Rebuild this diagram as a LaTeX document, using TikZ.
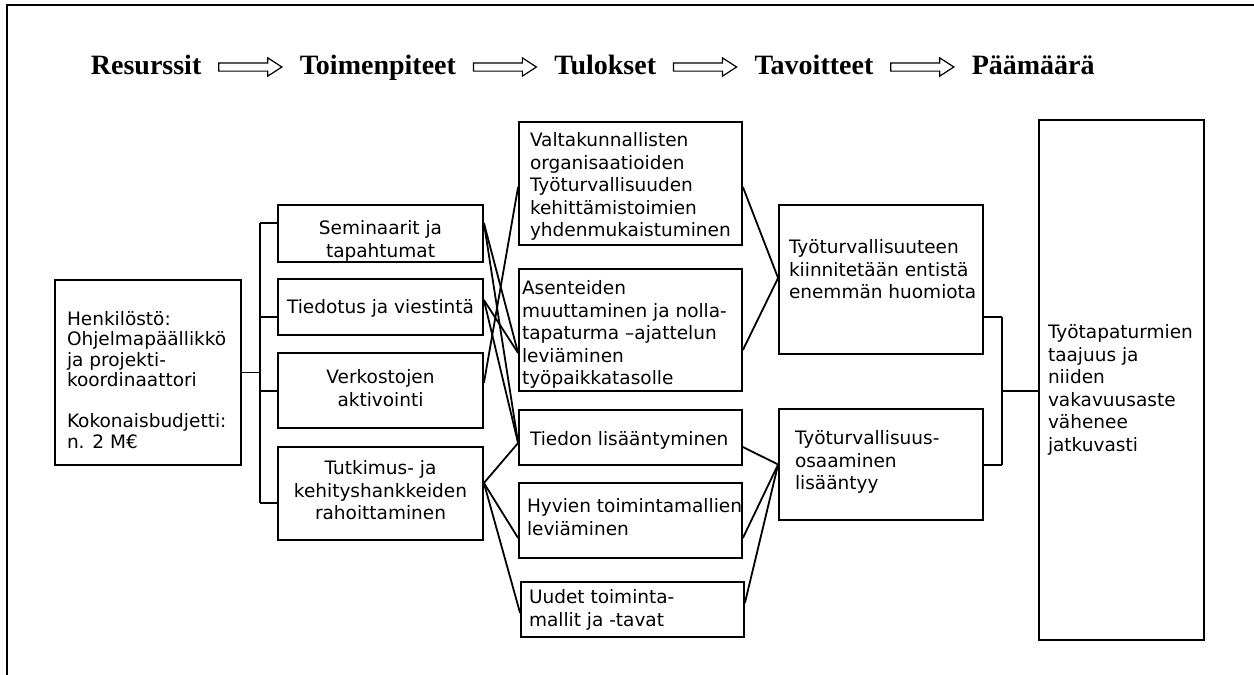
\documentclass[tikz,border=0pt]{standalone}
\usepackage{fontspec}
\setmainfont{DejaVu Sans}
\newfontfamily\hdrfont{Liberation Serif}
\usetikzlibrary{positioning,shapes.arrows}

\newcommand\boxfont{\fontsize{18.5}{22.5}\selectfont}

\begin{document}
\begin{tikzpicture}[x=1pt, y=-1pt, line width=1.8pt, node distance=16pt]
                \tikzstyle{box}=[draw, rectangle, inner sep=0pt]
                \tikzstyle{txt}=[inner sep=0pt, align=left, font=\boxfont]
                \tikzstyle{ctxt}=[inner sep=0pt, align=center, font=\boxfont]
                \tikzstyle{hdr}=[inner sep=0pt, font=\hdrfont\bfseries\fontsize{28}{30}\selectfont, text height=20pt, text depth=6pt]
                \tikzstyle{harrow}=[draw, single arrow, line width=1.2pt, minimum height=63pt, inner xsep=0pt, inner ysep=3.5pt, single arrow head extend=5pt, single arrow tip angle=66]

                    \useasboundingbox (0,0) rectangle (1254,675);
                    \draw[line width=2.5pt] (1254,5) -- (7,5) -- (7,675);

                    % Otsikot
                    \node[hdr, anchor=west] (h-res) at (90,67) {Resurssit};
                    \node[harrow, anchor=tail] (a1) at ([xshift=16pt]h-res.east) {};
                    \node[hdr, anchor=west] (h-act) at ([xshift=16pt]a1.tip) {Toimenpiteet};
                    \node[harrow, anchor=tail] (a2) at ([xshift=16pt]h-act.east) {};
                    \node[hdr, anchor=west] (h-out) at ([xshift=16pt]a2.tip) {Tulokset};
                    \node[harrow, anchor=tail] (a3) at ([xshift=16pt]h-out.east) {};
                    \node[hdr, anchor=west] (h-goal) at ([xshift=16pt]a3.tip) {Tavoitteet};
                    \node[harrow, anchor=tail] (a4) at ([xshift=16pt]h-goal.east) {};
                    \node[hdr, anchor=west] (h-aim) at ([xshift=16pt]a4.tip) {Päämäärä};

                    % Laatikot
                    \node[box, minimum width=186pt, minimum height=185pt] (res) at (148,372.5) {};
                    \node[box, minimum width=205pt, minimum height=57pt] (sem) at (380.5,233.5) {};
                    \node[box, minimum width=205pt, minimum height=56pt] (inf) at (380.5,307) {};
                    \node[box, minimum width=205pt, minimum height=75pt] (ver) at (380.5,390.5) {};
                    \node[box, minimum width=205pt, minimum height=93pt] (tut) at (380.5,493.5) {};
                    \node[box, minimum width=223pt, minimum height=123pt] (val) at (630.5,183.5) {};
                    \node[box, minimum width=223pt, minimum height=122pt] (ase) at (630.5,330) {};
                    \node[box, minimum width=223pt, minimum height=55pt] (tie) at (630.5,437.5) {};
                    \node[box, minimum width=223pt, minimum height=75pt] (hyv) at (630.5,520.5) {};
                    \node[box, minimum width=223pt, minimum height=55pt] (uud) at (632.5,609.5) {};
                    \node[box, minimum width=204pt, minimum height=149pt] (kii) at (881,279.5) {};
                    \node[box, minimum width=204pt, minimum height=111pt] (osa) at (881,464.5) {};
                    \node[box, minimum width=165pt, minimum height=520pt] (paa) at (1121.5,380) {};

                    % Tekstit
                    \node[txt, font=\fontsize{18.5}{20.5}\selectfont, below right=31pt and 12pt of res.north west] (res-t) {Henkilöstö:\\Ohjelmapäällikkö\\ja projekti-\\koordinaattori\\[20.5pt]Kokonaisbudjetti:\\n. 2 M€};
                    \node[ctxt, below=15.5pt of sem.north] (sem-t) {Seminaarit ja\\tapahtumat};
                    \node[ctxt, below=20.5pt of inf.north] (inf-t) {Tiedotus ja viestintä};
                    \node[ctxt, below=16.5pt of ver.north] (ver-t) {Verkostojen\\aktivointi};
                    \node[ctxt, below=13.5pt of tut.north] (tut-t) {Tutkimus- ja\\kehityshankkeiden\\rahoittaminen};
                    \node[txt, below right=10.5pt and 11pt of val.north west] (val-t) {Valtakunnallisten\\organisaatioiden\\Työturvallisuuden\\kehittämistoimien\\yhdenmukaistuminen};
                    \node[txt, below right=11.5pt and 3pt of ase.north west] (ase-t) {Asenteiden\\muuttaminen ja nolla-\\tapaturma –ajattelun\\leviäminen\\työpaikkatasolle};
                    \node[txt, below right=21.5pt and 11pt of tie.north west] (tie-t) {Tiedon lisääntyminen};
                    \node[txt, below right=15.5pt and 8pt of hyv.north west] (hyv-t) {Hyvien toimintamallien\\leviäminen};
                    \node[txt, below right=7.5pt and 8pt of uud.north west] (uud-t) {Uudet toiminta-\\mallit ja -tavat};
                    \node[txt, below right=34.5pt and 10pt of kii.north west] (kii-t) {Työturvallisuuteen\\kiinnitetään entistä\\enemmän huomiota};
                    \node[txt, below right=21.5pt and 16pt of osa.north west] (osa-t) {Työturvallisuus-\\osaaminen\\lisääntyy};
                    \node[txt, below right=204.5pt and 9pt of paa.north west] (paa-t) {Työtapaturmien\\taajuus ja\\niiden\\vakavuusaste\\vähenee\\jatkuvasti};

                    % Yhteydet
                    \coordinate (j-sem) at (260,223);
                    \coordinate (j-inf) at (260,317);
                    \coordinate (j-res) at (260,372.5);
                    \coordinate (j-ver) at (260,391);
                    \coordinate (j-tut) at (260,503);
                    \draw (j-sem) -- (j-tut);
                    \draw (res.east) -- (j-res);
                    \draw (j-sem) -- (j-sem -| sem.west);
                    \draw (j-inf) -- (j-inf -| inf.west);
                    \draw (j-ver) -- (j-ver -| ver.west);
                    \draw (j-tut) -- (j-tut -| tut.west);

                    \draw ([yshift=10.5pt]sem.east) -- ([yshift=-23pt]ase.west);
                    \draw ([yshift=10.5pt]sem.east) -- ([yshift=-5.5pt]tie.west);
                    \draw ([yshift=7pt]inf.east) -- ([yshift=-23pt]ase.west);
                    \draw ([yshift=7pt]inf.east) -- ([yshift=-5.5pt]tie.west);
                    \draw ([yshift=7.5pt]ver.east) -- ([yshift=-3.5pt]val.west);
                    \draw ([yshift=10.5pt]tut.east) -- ([yshift=-5.5pt]tie.west);
                    \draw ([yshift=10.5pt]tut.east) -- ([yshift=-17.5pt]hyv.west);
                    \draw ([yshift=10.5pt]tut.east) -- ([yshift=-3.5pt]uud.west);

                    \draw ([yshift=-3.5pt]val.east) -- ([yshift=1.5pt]kii.west);
                    \draw ([yshift=-20pt]ase.east) -- ([yshift=1.5pt]kii.west);
                    \draw ([yshift=-9.5pt]tie.east) -- (osa.west);
                    \draw ([yshift=-17.5pt]hyv.east) -- (osa.west);
                    \draw ([yshift=6.5pt]uud.east) -- (osa.west);

                    \coordinate (j-kii) at (1002,317);
                    \coordinate (j-paa) at (1002,391);
                    \coordinate (j-osa) at (1002,465);
                    \draw (j-kii) -- (j-osa);
                    \draw (j-kii) -- (j-kii -| kii.east);
                    \draw (j-osa) -- (j-osa -| osa.east);
                    \draw (j-paa) -- (j-paa -| paa.west);

\end{tikzpicture}
\end{document}
